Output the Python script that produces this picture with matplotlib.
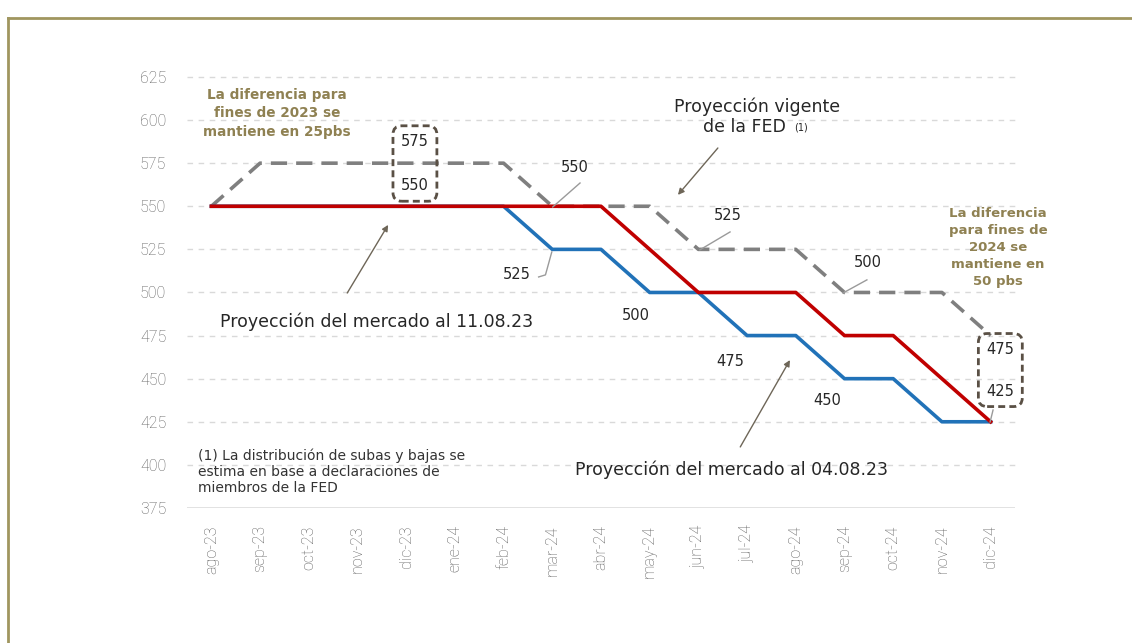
import matplotlib
matplotlib.use("Agg")
import matplotlib.pyplot as plt
from matplotlib.lines import Line2D

# data
meses = ["ago-23", "sep-23", "oct-23", "nov-23", "dic-23", "ene-24", "feb-24",
         "mar-24", "abr-24", "may-24", "jun-24", "jul-24", "ago-24", "sep-24",
         "oct-24", "nov-24", "dic-24"]
fed = [550, 575, 575, 575, 575, 575, 575, 550, 550, 550, 525, 525, 525, 500, 500, 500, 475]
mercado_1108 = [550, 550, 550, 550, 550, 550, 550, 550, 550, 525, 500, 500, 500, 475, 475, 450, 425]
mercado_0408 = [550, 550, 550, 550, 550, 550, 550, 525, 525, 500, 500, 475, 475, 450, 450, 425, 425]
y_ticks = [375, 400, 425, 450, 475, 500, 525, 550, 575, 600, 625]

ROJO = "#C00000"
AZUL = "#2172B8"
GRIS = "#7F7F7F"
OLIVA = "#8F8152"
CAJA = "#5A5045"
FLECHA = "#6E6658"
TXT = "#262626"

fig = plt.figure(figsize=(11.32, 6.43), dpi=100)
ax = fig.add_axes([0.1652, 0.2100, 0.7314, 0.6703])

x = list(range(len(meses)))

# grid
for v in y_ticks[1:]:
    ax.axhline(v, color="#D9D9D9", lw=1, ls=(0, (4, 4)), zorder=0, clip_on=False)
ax.axhline(375, color="#D9D9D9", lw=1.8, zorder=0)

ax.plot(x, mercado_0408, color=AZUL, lw=2.6, zorder=3)
ax.plot(x, mercado_1108, color=ROJO, lw=2.6, zorder=4)
ax.plot(x, fed, color=GRIS, lw=2.6, ls=(0, (4.5, 2.5)), zorder=2)

ax.set_xlim(-0.5, 16.5)
ax.set_ylim(375, 625)
ax.set_yticks(y_ticks)
ax.set_xticks(x)
ax.set_xticklabels(meses, rotation=90)
ax.tick_params(length=0, labelsize=11.5, labelcolor="#5E5E5E")
ax.tick_params(axis="y", pad=15)
ax.tick_params(axis="x", pad=12.5)
for lab in ax.get_xticklabels() + ax.get_yticklabels():
    lab.set_family("Roboto")
    lab.set_weight("light")
for s in ax.spines.values():
    s.set_visible(False)

# cajas punteadas
caja = dict(boxstyle="round,pad=0.55,rounding_size=0.6", fc="none", ec=CAJA,
            ls=(0, (2.5, 1.5)), lw=2)
ax.text(4.18, 574.8, "575\n\n550", ha="center", va="center", fontsize=10.5,
        color=TXT, linespacing=1.6, bbox=caja, zorder=6)
ax.text(16.2, 455.0, "475\n\n425", ha="center", va="center", fontsize=10.5,
        color=TXT, linespacing=1.5, bbox=caja, zorder=6)

# textos oliva
ax.text(1.35, 604, "La diferencia para\nfines de 2023 se\nmantiene en 25pbs",
        ha="center", va="center", fontsize=9.8, fontweight="bold", color=OLIVA,
        linespacing=1.4)
ax.text(16.15, 526, "La diferencia\npara fines de\n2024 se\nmantiene en\n50 pbs",
        ha="center", va="center", fontsize=9.5, fontweight="bold", color=OLIVA,
        linespacing=1.4, clip_on=False)

# etiquetas de valores
etiquetas = [(7.47, 572.2, "550"), (10.61, 544.5, "525"), (13.48, 517.1, "500"),
             (6.28, 510.2, "525"), (8.72, 486.4, "500"), (10.65, 459.7, "475"),
             (12.64, 437.6, "450")]
for ex, ey, t in etiquetas:
    ax.text(ex, ey, t, ha="center", va="center", fontsize=10.5, color=TXT)

# lineas guia
guia = dict(color="#9A9A9A", lw=1, zorder=5)
ax.plot([7.57, 7.01], [563.5, 549.6], **guia)
ax.plot([10.65, 10.03], [535.1, 524.7], **guia)
ax.plot([13.46, 12.97], [507.3, 499.7], **guia)
ax.plot([6.72, 6.86, 6.99], [509.0, 510.2, 523.5], **guia)
ax.plot([16.05, 15.99], [431.8, 424.9], **guia)

# titulos de series con flechas
flecha = dict(arrowstyle="-|>", color=FLECHA, lw=1, mutation_scale=9, shrinkA=0, shrinkB=0)
ax.text(11.2, 607.8, "Proyección vigente", ha="center", va="center", fontsize=12.5, color=TXT)
ax.text(10.95, 596.2, "de la FED", ha="center", va="center", fontsize=12.5, color=TXT)
ax.text(12.1, 595.6, "(1)", ha="center", va="center", fontsize=7, color=TXT)
ax.annotate("", xy=(9.58, 556.6), xytext=(10.40, 583.8), arrowprops=flecha)

ax.text(0.18, 482.9, "Proyección del mercado al 11.08.23", ha="left", va="center",
        fontsize=12.5, color=TXT)
ax.annotate("", xy=(3.63, 539.2), xytext=(2.79, 499.7), arrowprops=flecha)

ax.text(7.47, 397, "Proyección del mercado al 04.08.23", ha="left", va="center",
        fontsize=12.5, color=TXT)
ax.annotate("", xy=(11.88, 460.8), xytext=(10.86, 410.4), arrowprops=flecha)

# nota
ax.text(-0.27, 396, "(1) La distribución de subas y bajas se\nestima en base a declaraciones de\nmiembros de la FED",
        ha="left", va="center", fontsize=10, color="#333333", linespacing=1.2)

# marco
marco = "#A0965F"
fig.add_artist(Line2D([8 / 1132, 1.0], [1 - 18 / 643] * 2, transform=fig.transFigure,
                      color=marco, lw=2))
fig.add_artist(Line2D([8 / 1132] * 2, [0.0, 1 - 18 / 643], transform=fig.transFigure,
                      color=marco, lw=2))

fig.savefig("out.png", dpi=100)
